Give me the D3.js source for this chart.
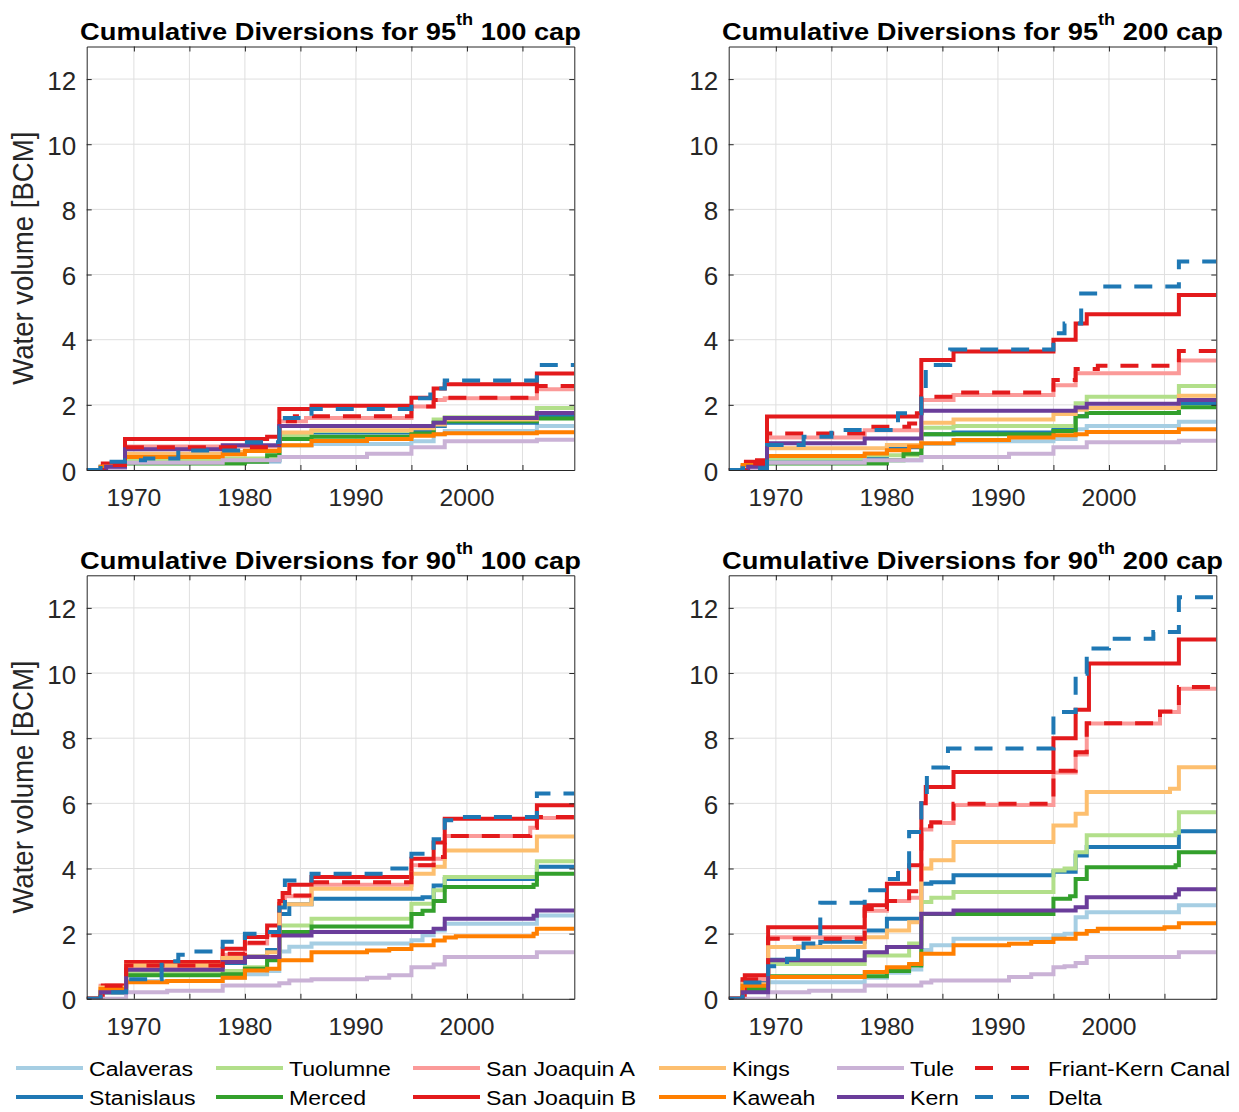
<!DOCTYPE html>
<html>
<head>
<meta charset="utf-8">
<script src="https://cdn.jsdelivr.net/npm/d3@7"></script>
<style>
  body { margin: 0; background: #fff; }
  text { font-family: "Liberation Sans", Arial, sans-serif; }
</style>
</head>
<body>
<svg id="chart" width="1239" height="1112"></svg>
<script>
// series names in plotting order, and their legend styling
var seriesNames = ["Calaveras", "Stanislaus", "Tuolumne", "Merced", "San Joaquin A",
    "San Joaquin B", "Kings", "Kaweah", "Tule", "Kern", "Friant-Kern Canal", "Delta"];
var seriesColors = ["#a6cee3", "#1f78b4", "#b2df8a", "#33a02c", "#fb9a99",
    "#e31a1c", "#fdbf6f", "#ff7f00", "#cab2d6", "#6a3d9a", "#e31a1c", "#1f78b4"];
var dashedSeries = ["Friant-Kern Canal", "Delta"];

var panelTitles = [["95", " 100 cap"], ["95", " 200 cap"], ["90", " 100 cap"], ["90", " 200 cap"]];
var yTicks = [0, 2, 4, 6, 8, 10, 12];
var xTicks = [1970, 1975, 1980, 1985, 1990, 1995, 2000, 2005];
var xTickLabels = ["1970", "", "1980", "", "1990", "", "2000", ""];

// cumulative diversions [BCM], step points [year, value]
var p95cap100 = {
    "Calaveras": [[1967.5,0.05],[1969.2,0.25],[1983.1,0.75],[1986,0.8],[1995,0.88],[1997,1.1],[1998,1.2],[2006.3,1.35]],
    "Stanislaus": [[1967,0.1],[1969.2,0.3],[1983.1,1.1],[1986,1.15],[1995,1.2],[1997,1.35],[1998,1.45],[2006.3,1.65]],
    "Tuolumne": [[1969.2,0.3],[1978,0.35],[1983.1,1.05],[1986,1.2],[1995,1.3],[1997,1.55],[1998,1.62],[2006.3,1.9]],
    "Merced": [[1969.2,0.2],[1980,0.25],[1982,0.45],[1983.1,0.95],[1986,1.02],[1995,1.12],[1997,1.45],[1998,1.5],[2006.3,1.58]],
    "San Joaquin A": [[1967.3,0.15],[1969.2,0.72],[1983.1,1.5],[1985.5,1.6],[1995,1.95],[1997,2.15],[1998,2.2],[2006.3,2.48]],
    "San Joaquin B": [[1967.2,0.2],[1969.2,0.95],[1982,1.02],[1983.1,1.87],[1986,1.97],[1995,2.22],[1997,2.5],[1998,2.63],[2006.3,2.96]],
    "Kings": [[1967.3,0.1],[1969.2,0.5],[1978,0.55],[1980,0.6],[1983.1,1.15],[1986,1.22],[1995,1.28],[1997,1.4],[1998,1.55],[2006.3,1.75]],
    "Kaweah": [[1967,0.1],[1969.2,0.4],[1978,0.48],[1980,0.58],[1983.1,0.76],[1986,0.89],[1991,0.95],[1995,1.05],[1997,1.1],[1998,1.13],[2006.3,1.16]],
    "Tule": [[1969.2,0.22],[1978,0.3],[1983.1,0.4],[1991,0.5],[1995,0.7],[1998,0.88],[2006.3,0.93]],
    "Kern": [[1967.5,0.1],[1969.2,0.64],[1978,0.76],[1983.1,1.35],[1997,1.45],[1998,1.6],[2006.3,1.75]],
    "Friant-Kern Canal": [[1967.3,0.15],[1969.2,0.7],[1983.1,1.5],[1984.5,1.65],[1995,1.95],[1997,2.15],[1998,2.22],[2006.3,2.58]],
    "Delta": [[1967,0.25],[1969.2,0.3],[1971,0.35],[1974,0.6],[1980,0.85],[1983.1,1.3],[1983.6,1.6],[1986,1.87],[1995,2.2],[1996.7,2.5],[1998,2.75],[2006.3,3.22]]
};

var p95cap200 = {
    "Calaveras": [[1967.5,0.05],[1969.2,0.3],[1983.1,0.8],[1986,0.88],[1995,0.95],[1997,1.25],[1998,1.35],[2006.3,1.48]],
    "Stanislaus": [[1967,0.1],[1969.2,0.35],[1980,0.7],[1983.1,1.1],[1986,1.15],[1995,1.25],[1997,1.65],[1998,1.75],[2006.3,2.05]],
    "Tuolumne": [[1969.2,0.35],[1978,0.45],[1983.1,1.3],[1986,1.35],[1997,2.05],[1998,2.25],[2006.3,2.58]],
    "Merced": [[1969.2,0.2],[1980,0.3],[1981.5,0.5],[1983.1,1.1],[1995,1.2],[1997,1.65],[1998,1.75],[2006.3,1.93]],
    "San Joaquin A": [[1967.3,0.2],[1969.2,1.0],[1978,1.22],[1983.1,2.15],[1986,2.3],[1995,2.6],[1997,2.97],[2006.3,3.36]],
    "San Joaquin B": [[1967.3,0.25],[1968.3,0.3],[1969.2,1.64],[1982.7,1.74],[1983.1,3.38],[1986,3.64],[1995,4.0],[1997,4.5],[1998,4.78],[2006.3,5.37]],
    "Kings": [[1967.3,0.1],[1969.2,0.67],[1980,0.77],[1983.1,1.45],[1986,1.55],[1995,1.72],[1997,1.85],[1998,1.9],[2006.3,2.28]],
    "Kaweah": [[1967,0.15],[1969.2,0.43],[1978,0.51],[1980,0.61],[1982,0.72],[1983.1,0.82],[1986,0.92],[1991,1.0],[1995,1.07],[1997,1.1],[1998,1.17],[2006.3,1.25]],
    "Tule": [[1969.2,0.22],[1978,0.3],[1983.1,0.4],[1991,0.5],[1995,0.7],[1998,0.85],[2006.3,0.9]],
    "Kern": [[1967.5,0.1],[1969.2,0.82],[1978,0.97],[1983.1,1.82],[1997,1.92],[1998,2.03],[2006.3,2.15]],
    "Friant-Kern Canal": [[1967.3,0.2],[1969.2,1.12],[1978.5,1.33],[1982,1.43],[1983.1,2.25],[1986,2.38],[1995,2.76],[1997,3.1],[1999,3.2],[2006.3,3.65]],
    "Delta": [[1967,0.05],[1969.2,0.77],[1972.5,1.02],[1975,1.23],[1981,1.74],[1983.1,2.5],[1983.5,3.22],[1985.7,3.7],[1995,4.2],[1996,4.5],[1997.5,5.42],[1999,5.63],[2006.3,6.4]]
};

var p90cap100 = {
    "Calaveras": [[1967,0.2],[1969.3,0.55],[1978,0.65],[1980,0.75],[1982,0.85],[1983.1,1.45],[1984,1.6],[1986,1.7],[1995,1.8],[1996,1.95],[1997,2.1],[1998,2.3],[2006.3,2.56]],
    "Stanislaus": [[1967,0.2],[1969.3,0.85],[1974,0.9],[1978,1.1],[1980,1.3],[1982,1.5],[1983.1,2.6],[1984,2.9],[1986,3.07],[1996,3.12],[1997,3.48],[1998,3.68],[2006.3,4.05]],
    "Tuolumne": [[1967,0.25],[1969.3,0.8],[1978,0.85],[1980,0.97],[1982,1.2],[1983.1,2.25],[1986,2.46],[1995,2.92],[1997,3.33],[1998,3.74],[2006.3,4.22]],
    "Merced": [[1967,0.2],[1969.3,0.72],[1978,0.75],[1980,0.92],[1982,1.18],[1983.1,2.05],[1986,2.22],[1995,2.6],[1996,2.7],[1997,3.0],[1998,3.43],[2006,3.5],[2006.3,3.84]],
    "San Joaquin A": [[1967,0.4],[1969.3,1.0],[1978,1.35],[1980,1.7],[1982,1.95],[1983.1,2.9],[1983.6,3.15],[1986,3.5],[1995,4.1],[1997,4.3],[1998,5.0],[2005.7,5.25],[2006.3,5.55]],
    "San Joaquin B": [[1967.2,0.41],[1969.3,1.13],[1978,1.54],[1980,1.9],[1982,2.25],[1983.1,2.9],[1983.4,3.25],[1984,3.5],[1986,3.74],[1995,4.3],[1997,4.8],[1998,5.53],[2006.3,5.94]],
    "Kings": [[1967,0.35],[1969.3,1.02],[1978,1.25],[1980,1.3],[1982,1.43],[1983.1,2.9],[1986,3.38],[1995,3.84],[1997,4.05],[1998,4.55],[2006.3,4.98]],
    "Kaweah": [[1967,0.3],[1969.3,0.51],[1973,0.55],[1978,0.65],[1980,0.87],[1982,0.92],[1983.1,1.18],[1986,1.43],[1991,1.48],[1993,1.53],[1995,1.64],[1997,1.79],[1998,1.88],[1999,1.92],[2006,2.0],[2006.3,2.15]],
    "Tule": [[1969.3,0.2],[1973,0.25],[1978,0.41],[1983.1,0.48],[1984,0.56],[1986,0.6],[1991,0.65],[1993,0.72],[1995,0.97],[1997,1.05],[1998,1.28],[2006.3,1.43]],
    "Kern": [[1967,0.2],[1969.3,0.89],[1978,1.13],[1980,1.28],[1983.1,1.94],[1986,2.05],[1997,2.15],[1998,2.46],[2006,2.55],[2006.3,2.71]],
    "Friant-Kern Canal": [[1967,0.4],[1969.3,1.02],[1978,1.38],[1980,1.72],[1982,1.95],[1983.1,3.0],[1983.6,3.17],[1986,3.58],[1995,4.1],[1997,4.35],[1998,5.0],[2005.7,5.25],[2006.3,5.58]],
    "Delta": [[1967,0.2],[1969.3,0.6],[1972.5,1.15],[1974,1.35],[1975,1.45],[1978,1.75],[1980,2.0],[1982,2.05],[1983.1,2.8],[1983.6,3.63],[1986,3.84],[1992.5,4.0],[1995,4.45],[1996,4.55],[1997,4.9],[1998,5.48],[1999,5.58],[2006.3,6.3]]
};

var p90cap200 = {
    "Calaveras": [[1967,0.3],[1969.3,0.51],[1978,0.65],[1980,0.8],[1982,0.9],[1983.1,1.5],[1984,1.64],[1986,1.84],[1995,1.95],[1996,2.0],[1997,2.5],[1998,2.66],[2006.3,2.87]],
    "Stanislaus": [[1967,0.5],[1969.3,1.2],[1972,1.6],[1974,1.75],[1978,2.1],[1980,2.46],[1983.1,3.53],[1984,3.58],[1986,3.79],[1995,3.9],[1997,4.4],[1998,4.66],[2006.3,5.14]],
    "Tuolumne": [[1967,0.3],[1969.3,1.07],[1978,1.33],[1982,1.7],[1983.1,2.97],[1984,3.1],[1986,3.28],[1995,3.94],[1996,4.0],[1997,4.5],[1998,5.02],[2006,5.1],[2006.3,5.73]],
    "Merced": [[1967,0.3],[1969.3,0.69],[1980,0.85],[1982,1.02],[1983.1,2.6],[1995,3.07],[1996.5,3.15],[1997,3.68],[1998,4.04],[2006,4.1],[2006.3,4.5]],
    "San Joaquin A": [[1967,0.6],[1969.3,1.89],[1978,2.7],[1980,3.0],[1982,3.1],[1983.1,5.2],[1984,5.4],[1986,5.95],[1995,6.95],[1997,7.5],[1998,8.45],[2004.6,8.8],[2006.3,9.52]],
    "San Joaquin B": [[1967.2,0.72],[1969.3,2.2],[1978,2.87],[1980,3.53],[1982,4.1],[1983.1,6.0],[1983.5,6.5],[1986,6.96],[1995,8.0],[1997,8.87],[1998.2,10.29],[2006.3,11.03]],
    "Kings": [[1967,0.45],[1969.3,1.59],[1978,1.89],[1980,2.1],[1982,2.35],[1983.1,4.0],[1984,4.25],[1986,4.81],[1995,5.32],[1997,5.68],[1998,6.35],[2005.5,6.45],[2006.3,7.11]],
    "Kaweah": [[1967,0.4],[1969.3,0.67],[1978,0.82],[1980,0.97],[1982,1.07],[1983.1,1.38],[1986,1.64],[1991,1.69],[1993,1.74],[1995,1.84],[1997,2.0],[1998,2.08],[1999,2.15],[2005,2.2],[2006.3,2.32]],
    "Tule": [[1969.3,0.2],[1973,0.25],[1978,0.41],[1983.1,0.5],[1984,0.56],[1991,0.67],[1993,0.75],[1995,0.97],[1996,1.0],[1997,1.1],[1998,1.28],[2006.3,1.43]],
    "Kern": [[1967,0.2],[1969.3,1.18],[1978,1.43],[1980,1.59],[1983.1,2.61],[1986,2.71],[1997,2.81],[1998,3.12],[2006,3.2],[2006.3,3.36]],
    "Friant-Kern Canal": [[1967,0.6],[1969.3,1.84],[1978,2.76],[1980,3.0],[1982,3.3],[1983.1,5.3],[1984,5.42],[1986,5.99],[1995,7.0],[1997,7.57],[1998,8.46],[2004.6,8.82],[2006.3,9.57]],
    "Delta": [[1967,0.5],[1969.3,1.0],[1971,1.23],[1972.5,1.7],[1974,2.95],[1978,3.33],[1980,3.68],[1981,4.0],[1982,5.12],[1983.1,6.0],[1983.6,7.1],[1985.5,7.68],[1995,8.8],[1997,9.98],[1998,10.75],[2000,11.05],[2004,11.26],[2006.3,12.33]]
};

var panelData = [p95cap100, p95cap200, p90cap100, p90cap200];

// layout
var svg = d3.select("#chart");
var axW = 487.6, axH = 423.5;
var panels = [
    { left: 86.7, top: 46.5 },
    { left: 728.7, top: 46.5 },
    { left: 86.7, top: 575.3 },
    { left: 728.7, top: 575.3 }
];
var xDomain = [1965.75, 2009.67];
var axisColor = "#262626";

var xScale = d3.scaleLinear().domain(xDomain).range([0, axW]);
var yScale = d3.scaleLinear().domain([0, 13]).range([axH, 0]);

// text drawn at (x,y) and stretched horizontally by sx
function stretchedText(parent, x, y, anchor, sx) {
    return parent.append("text")
        .attr("transform", "translate(" + [x, y] + ") scale(" + sx + ",1)")
        .attr("text-anchor", anchor);
}

var line = d3.line()
    .x(function (d) { return xScale(d[0]); })
    .y(function (d) { return yScale(d[1]); })
    .curve(d3.curveStepAfter);

panels.forEach(function (p, i) {
    var g = svg.append("g").attr("transform", "translate(" + [p.left, p.top] + ")");

    // grid
    g.selectAll(".gx").data(xTicks).enter().append("line")
        .attr("x1", function (d) { return xScale(d); })
        .attr("x2", function (d) { return xScale(d); })
        .attr("y1", 0).attr("y2", axH)
        .attr("stroke", "#dfdfdf").attr("stroke-width", 1);
    g.selectAll(".gy").data(yTicks.slice(1)).enter().append("line")
        .attr("y1", function (d) { return yScale(d); })
        .attr("y2", function (d) { return yScale(d); })
        .attr("x1", 0).attr("x2", axW)
        .attr("stroke", "#dfdfdf").attr("stroke-width", 1);

    // series
    g.append("clipPath").attr("id", "clip" + i)
        .append("rect").attr("width", axW).attr("height", axH);
    var plot = g.append("g").attr("clip-path", "url(#clip" + i + ")");
    var data = panelData[i];
    seriesNames.forEach(function (name, k) {
        var pts = data[name];
        var full = [[xDomain[0], 0]].concat(pts, [[xDomain[1], pts[pts.length - 1][1]]]);
        plot.append("path")
            .datum(full)
            .attr("d", line)
            .attr("fill", "none")
            .attr("stroke", seriesColors[k])
            .attr("stroke-width", 4)
            .attr("stroke-dasharray", dashedSeries.indexOf(name) >= 0 ? "18,13" : null);
    });

    // axes box with inside ticks on all sides
    var tickLen = 5;
    var left = d3.axisLeft(yScale).tickValues(yTicks).tickSizeInner(-tickLen).tickSizeOuter(0).tickFormat("");
    var right = d3.axisRight(yScale).tickValues(yTicks).tickSizeInner(-tickLen).tickSizeOuter(0).tickFormat("");
    var bottom = d3.axisBottom(xScale).tickValues(xTicks).tickSizeInner(-tickLen).tickSizeOuter(0).tickFormat("");
    var top = d3.axisTop(xScale).tickValues(xTicks).tickSizeInner(-tickLen).tickSizeOuter(0).tickFormat("");
    [g.append("g").call(left),
     g.append("g").attr("transform", "translate(" + axW + ",0)").call(right),
     g.append("g").attr("transform", "translate(0," + axH + ")").call(bottom),
     g.append("g").call(top)].forEach(function (a) {
        a.selectAll("path,line").attr("stroke", axisColor).attr("stroke-width", 1);
    });

    // tick labels
    yTicks.forEach(function (t) {
        stretchedText(g, -10.5, yScale(t) + 10.5, "end", 1.0)
            .attr("font-size", 26).attr("fill", axisColor).text(t);
    });
    xTicks.forEach(function (t, k) {
        if (!xTickLabels[k]) return;
        stretchedText(g, xScale(t), axH + 36, "middle", 1.05)
            .attr("font-size", 23.5).attr("fill", axisColor).text(xTickLabels[k]);
    });

    // y label on left column
    if (i % 2 === 0) {
        g.append("text")
            .attr("transform", "translate(" + [33 - p.left, axH / 2] + ") rotate(-90) scale(1.06,1.1)")
            .attr("text-anchor", "middle")
            .attr("font-size", 26)
            .attr("fill", axisColor)
            .text("Water volume [BCM]");
    }

    // title, scaled to the width it has in the figure
    var title = g.append("text")
        .attr("text-anchor", "middle")
        .attr("font-size", 24).attr("font-weight", "bold").attr("fill", "#000");
    title.append("tspan").text("Cumulative Diversions for " + panelTitles[i][0]);
    title.append("tspan").attr("dy", -15).attr("font-size", 16).text("th");
    title.append("tspan").attr("dy", 15).text(panelTitles[i][1]);
    var tw = title.node().getComputedTextLength();
    title.attr("transform", "translate(" + [axW / 2, -6.5] + ") scale(" + (501 / tw) + ",1)");
});

// legend
var legendCols = [16, 216, 413, 659, 837, 975];
var legendRows = [1068, 1097];
var legendLen = 67;
seriesNames.forEach(function (name, k) {
    var col = Math.floor(k / 2), row = k % 2;
    var x0 = legendCols[col], y0 = legendRows[row];
    var dashed = dashedSeries.indexOf(name) >= 0;
    svg.append("line")
        .attr("x1", x0).attr("x2", x0 + (dashed ? 54 : legendLen))
        .attr("y1", y0).attr("y2", y0)
        .attr("stroke", seriesColors[k])
        .attr("stroke-width", 4)
        .attr("stroke-dasharray", dashed ? "18,18" : null);
    stretchedText(svg, x0 + (dashed ? 73 : legendLen + 6), y0 + 7.5, "start", 1.1)
        .attr("font-size", 21).attr("fill", "#000").text(name);
});
</script>
</body>
</html>
